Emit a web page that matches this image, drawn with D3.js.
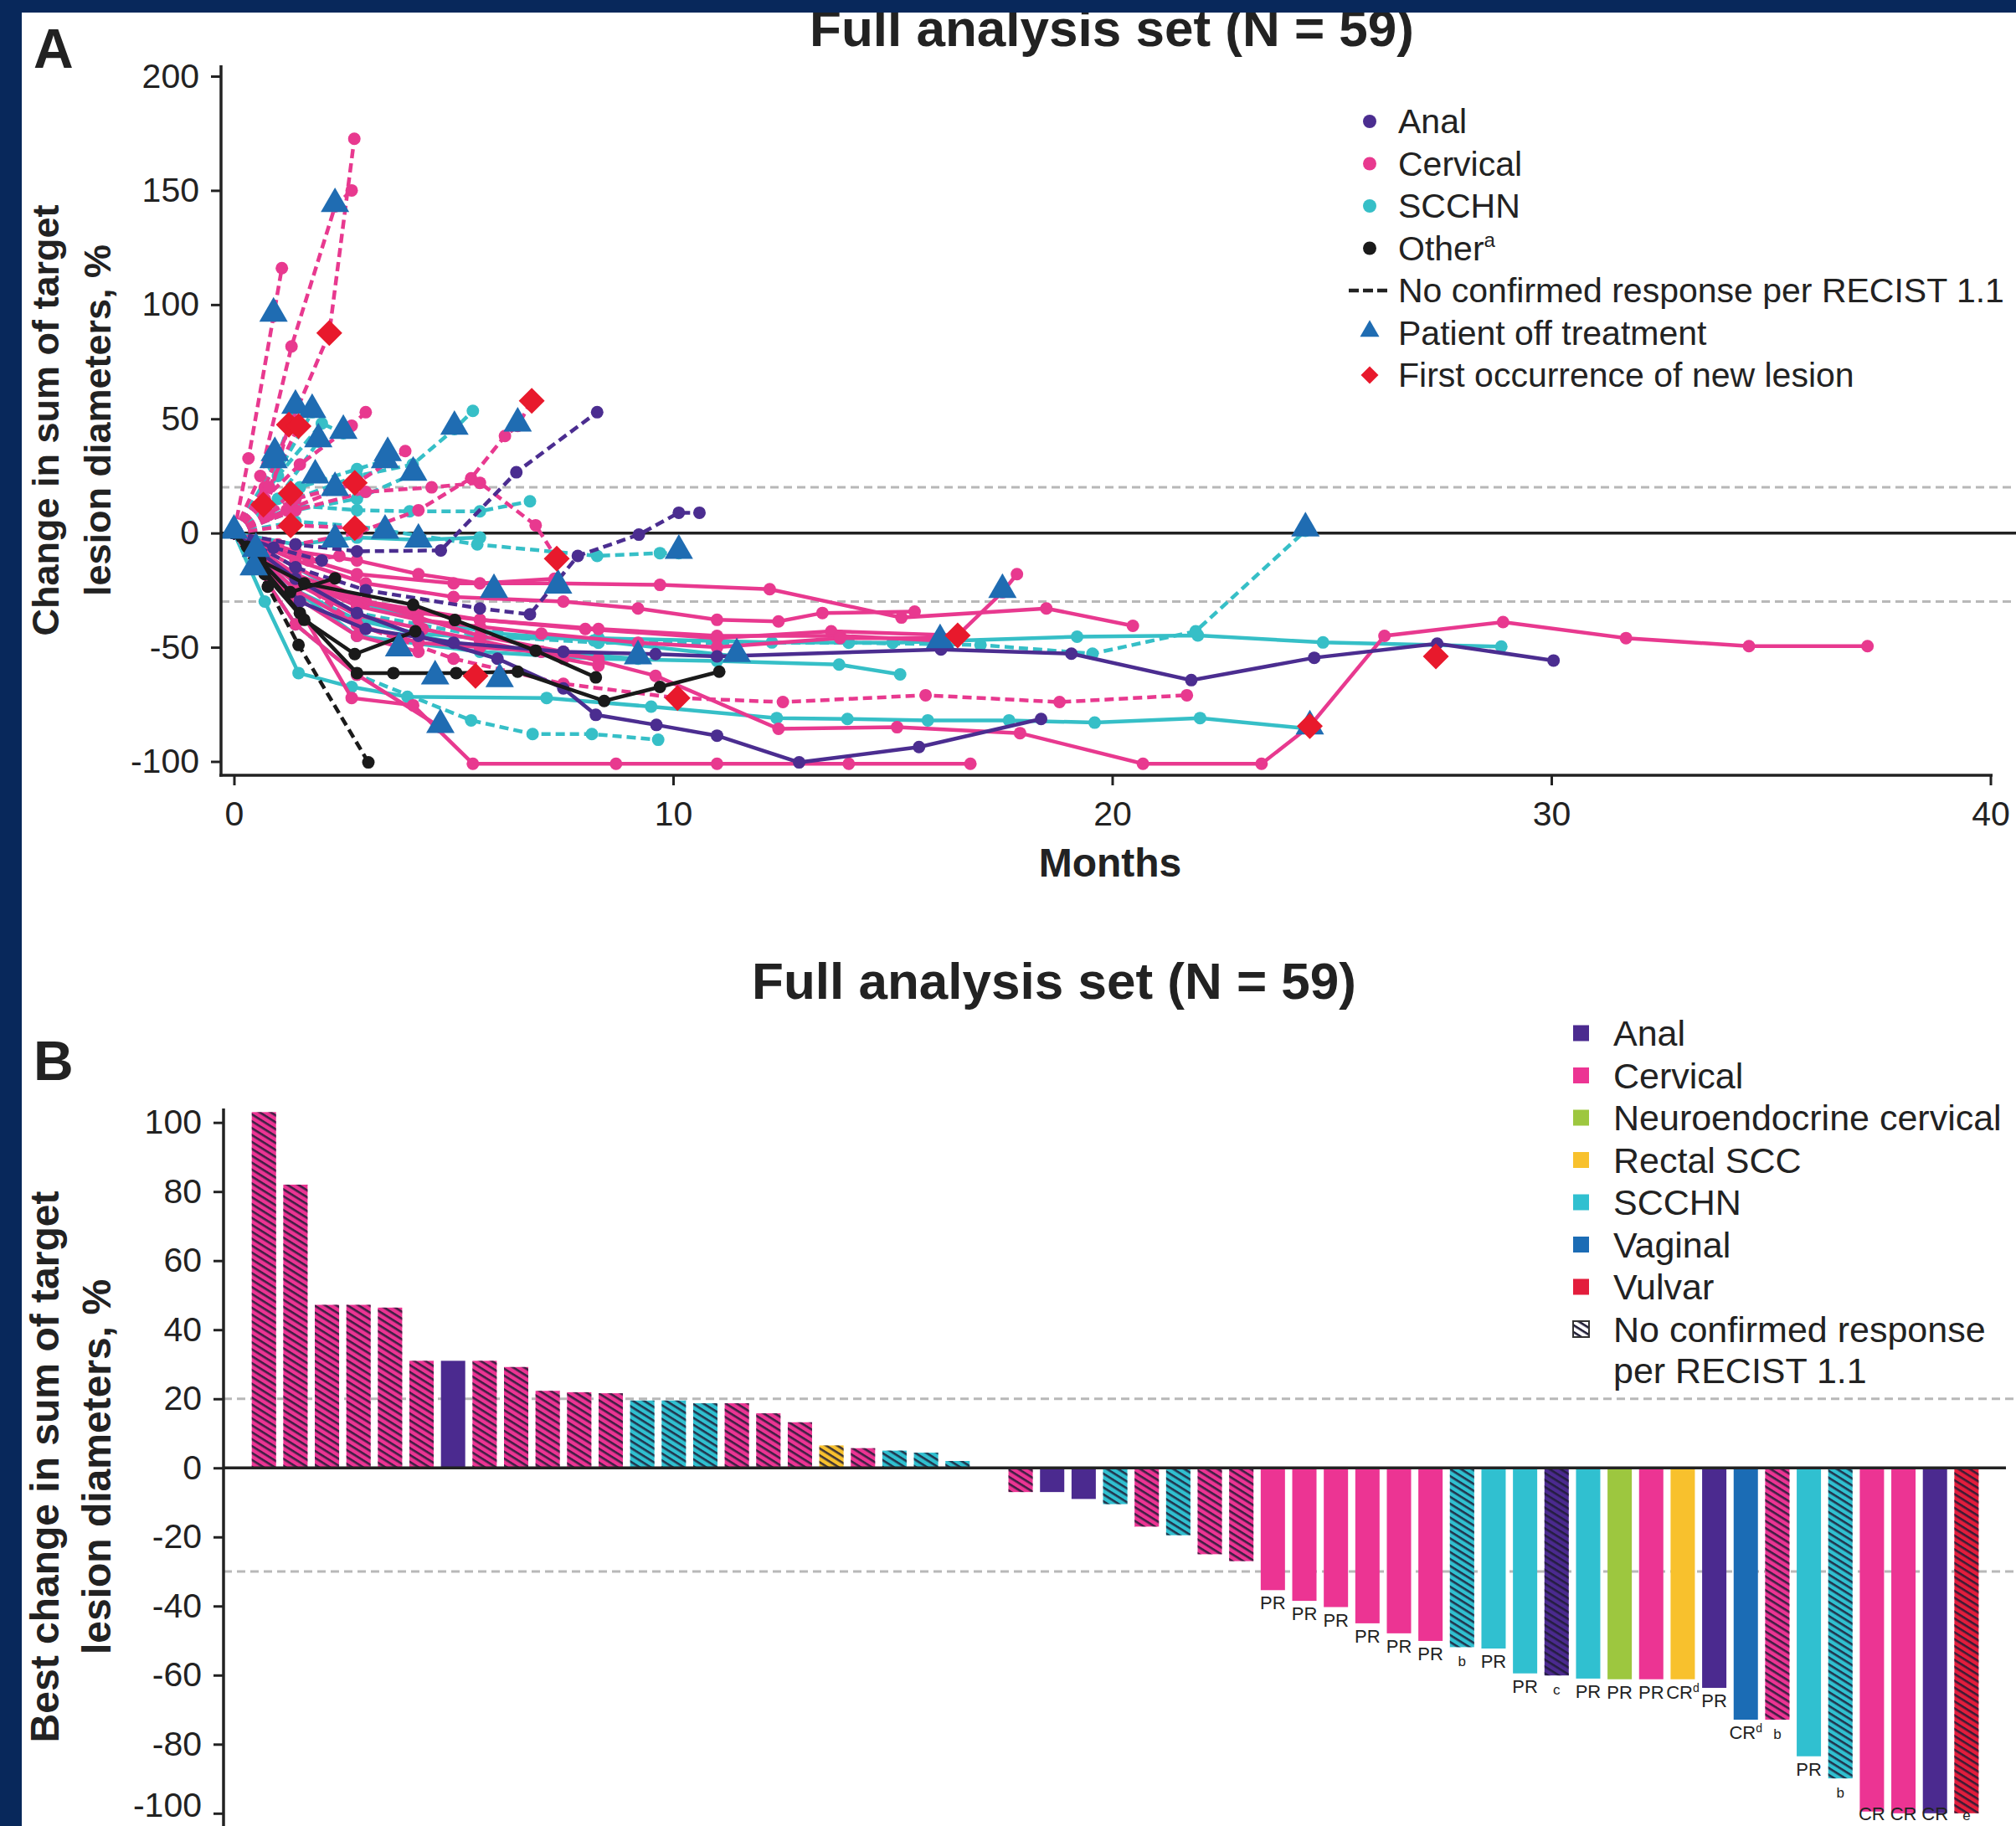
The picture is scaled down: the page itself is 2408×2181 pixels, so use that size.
<!DOCTYPE html>
<html>
<head>
<meta charset="utf-8">
<script src="https://cdn.jsdelivr.net/npm/d3@7"></script>
<style>
  body { margin: 0; background: #fff; }
  text { font-family: "Liberation Sans", Arial, sans-serif; fill: #222; }
</style>
</head>
<body>
<svg id="chart" width="2408" height="2181"></svg>
<script>
// ---------- Panel A data: [dashed, [[month, % change], ...]] ----------
const cervicalLines = [
  [0, [[0,0],[1.4,-15],[3,-30],[5.6,-45],[7.5,-52],[9.6,-62.5],[12.4,-85.7],[15.1,-85],[17.9,-87.6],[20.7,-101],[23.4,-101],[24.5,-84.5],[26.2,-45],[28.9,-39],[31.7,-46],[34.5,-49.5],[37.2,-49.5]]],
  [0, [[0,0],[1.4,-10],[2.8,-18],[5,-22],[7.3,-22],[9.7,-22.7],[12.2,-24.6],[15.2,-37],[18.5,-33],[20.47,-40.6]]],
  [0, [[0,0],[1.4,-18],[3,-30],[5.6,-38],[8,-42],[11,-46],[13.6,-43],[16.48,-44.8],[17.5,-25.9],[17.83,-18]]],
  [0, [[0,0],[1.4,-30],[2.68,-72.2],[4.08,-75.4],[5.44,-101],[8.7,-101],[11,-101],[14,-101],[16.77,-101]]],
  [0, [[0,0],[1.4,-40],[2.8,-62],[4.7,-85]]],
  [0, [[0,0],[1.4,-12],[3,-22],[5,-28],[7.5,-30],[9.2,-33],[11,-38],[12.4,-38.7],[13.4,-35],[15.5,-34.4]]],
  [0, [[0,0],[0.5,-10],[1.4,-20],[2.8,-30],[4.2,-35],[5.6,-38],[8.3,-42],[11,-45],[13.8,-45],[16,-47]]],
  [0, [[0,0],[1.4,-25],[2.8,-40],[4.2,-48],[5.6,-50],[7,-52],[8.3,-55]]],
  [0, [[0,0],[0.5,-12],[1.4,-28],[2.8,-45],[4.2,-52]]],
  [0, [[0,0],[1.4,-8],[2.8,-12],[4.2,-18],[5.6,-22],[7.3,-20]]],
  [0, [[0,0],[1.4,-20],[2.8,-32],[4.2,-38],[5.6,-41],[7,-44],[9.2,-48],[11,-50],[13.8,-46],[16.5,-46]]],
  [0, [[0,0],[1.4,-22],[2.8,-36],[4.3,-42],[5.6,-47],[7.5,-55],[8.3,-58]]],
  [1, [[0,0],[0.7,20],[1.3,48],[2.17,87.6],[2.74,172.6]]],
  [1, [[0,0],[0.6,25],[1.31,81.7],[2.3,143],[2.68,150]]],
  [1, [[0,0],[0.33,32.7],[0.9,95],[1.09,116]]],
  [1, [[0,0],[0.7,15],[1.5,30],[2.68,47],[3.0,52.9]]],
  [1, [[0,0],[1.4,-5],[2.8,0],[4.2,10],[5.4,24],[6.17,42.5],[6.46,46.9],[6.78,57.9]]],
  [1, [[0,0],[1.4,10],[3,18],[4.5,20],[5.6,22],[6.87,3.4],[7.35,-11.2]]],
  [1, [[0,0],[1.4,15],[2.8,22],[3.9,35.9]]],
  [1, [[0,0],[1.4,-20],[2.8,-40],[5,-55],[7.5,-66],[10.1,-72.2],[12.5,-74],[15.75,-71],[18.8,-74],[21.7,-71]]],
  [1, [[0,0],[0.67,12.4]]],
  [1, [[0,0],[0.8,8],[1.29,17.4]]],
  [1, [[0,0],[0.7,8],[1.25,47.4]]],
  [1, [[0,0],[0.8,20],[1.47,46.8]]],
  [1, [[0,0],[1.2,10],[2.75,22]]],
  [1, [[0,0],[1.29,3.4],[2.75,2.2]]],
  [1, [[0,0],[1.0,-5],[1.7,-12],[2.4,-10]]]
];
const scchnLines = [
  [0, [[0,0],[1.4,-25],[2.8,-38],[4.2,-44],[5.6,-46],[8.3,-46],[12.25,-47.9],[15,-48],[19.2,-45.4],[21.95,-44.8],[24.8,-47.9],[28.86,-49.7]]],
  [0, [[0,0],[0.7,-30],[1.47,-61.3],[2.68,-67.4],[3.95,-71.7],[7.12,-72.2],[9.5,-76],[12.36,-81],[13.97,-81.4],[15.8,-82],[17.65,-82],[19.6,-83],[22,-81],[24.5,-85.7]]],
  [0, [[0,0],[1.4,-25],[2.8,-45],[5.6,-52],[8.3,-55],[11,-56],[13.78,-57.6],[15.17,-61.9]]],
  [0, [[0,0],[1.4,-5],[2.8,-2],[4.2,-3],[5.6,-2]]],
  [0, [[0,0],[1.4,-20],[2.8,-36],[4.2,-45],[5.6,-50],[7,-52],[9.2,-55]]],
  [0, [[0,0],[1.4,-15],[2.8,-30],[4.2,-38],[6,-44],[8.2,-47],[11.45,-54]]],
  [1, [[0,0],[1.4,-20],[2.8,-35],[5.6,-45],[8.3,-48],[11,-48],[14,-48],[17,-49],[19.55,-52.8],[21.9,-43],[24.4,1]]],
  [1, [[0,0],[1.4,-40],[2.8,-62],[5.4,-82],[6.8,-88],[8.15,-88],[9.66,-90.5]]],
  [1, [[0,0],[1.4,5],[2.8,3],[5.54,-5],[8.27,-10],[9.7,-8.8],[10.13,-8.8]]],
  [1, [[0,0],[1.4,12],[2.8,10],[4.0,9.5],[5.6,9.5],[6.74,13.9]]],
  [1, [[0,0],[1.4,15],[2.8,25],[4.07,30],[5.02,45.5],[5.44,53.5]]],
  [1, [[0,0],[0.9,29],[1.4,54.7]]],
  [1, [[0,0],[0.8,20],[1.78,52.9]]],
  [1, [[0,0],[1.0,25],[2.0,48],[2.49,43.7]]],
  [1, [[0,0],[1.0,15],[1.92,40]]],
  [1, [[0,0],[1.5,20],[2.8,28],[3.5,32]]],
  [1, [[0,0],[1.4,10],[2.8,15],[4.1,26]]]
];
const analLines = [
  [0, [[0,0],[1.5,-30],[3,-42],[5,-48],[7.5,-52],[9.6,-53],[11,-54],[16.1,-51],[19.07,-52.8],[21.8,-64.4],[24.6,-54.6],[27.4,-48.4],[30.05,-55.8]]],
  [0, [[0,0],[1.4,-20],[2.8,-35],[4.2,-45],[6,-55],[7.5,-68],[8.24,-79.6],[9.62,-84],[11,-88.7],[12.87,-100.4],[15.6,-93.7],[18.38,-81.4]]],
  [1, [[0,0],[1.4,-5],[2.8,-8],[4.71,-7.6],[6.43,26.6],[8.27,52.9]]],
  [1, [[0,0],[1.4,-15],[3,-25],[5.6,-33],[6.74,-35.6],[7.83,-10],[9.22,-0.7],[10.13,8.9],[10.6,8.9]]],
  [1, [[0,0],[0.9,-6.4],[2,-12]]]
];
const otherLines = [
  [1, [[0,0],[0.77,-23.5],[1.47,-49],[3.06,-100.4]]],
  [0, [[0,0],[0.3,-6],[1.28,-25.9],[2.3,-19.8]]],
  [0, [[0,0],[0.6,-12],[1.6,-22],[4.08,-31.4],[5.03,-38.1],[6.87,-51.5],[8.24,-63.2]]],
  [0, [[0,0],[0.6,-14],[1.5,-35],[2.8,-61.3],[3.63,-61.3],[5.06,-61.3],[6.46,-60.7],[8.43,-73.5],[9.7,-67.4],[11.05,-60.7]]],
  [0, [[0,0],[0.7,-18],[1.6,-38],[2.75,-53],[4.13,-43]]]
];
const offTreatment = [[0,0],[0.45,-16],[0.5,-8],[0.9,95],[2.3,143],[1.4,54.7],[1.78,52.9],[2.49,43.7],[1.92,40],
  [0.9,30.9],[0.93,34],[1.85,24.2],[2.3,18.7],[3.44,30.9],[3.5,34],[4.08,25.4],[2.3,-3.9],[3.44,0],[4.2,-3.9],
  [5.02,45.5],[6.46,46.9],[10.13,-8.8],[24.4,1],[24.5,-85.7],[17.5,-25.9],[16.08,-47.9],[11.45,-54],[9.2,-55],
  [7.38,-24],[5.92,-25.9],[3.76,-51.5],[4.58,-63.8],[6.05,-65],[4.7,-85]];
const newLesion = [[2.17,87.6],[1.25,47.4],[1.47,46.8],[6.78,57.9],[0.67,12.4],[1.29,17.4],[1.29,3.4],[2.75,22],
  [2.75,2.2],[7.35,-11.2],[10.1,-72.2],[5.5,-62.5],[16.48,-44.8],[24.5,-84.5],[27.37,-54]];
const monthTicks = [0, 10, 20, 30, 40];
const changeTicksA = [-100, -50, 0, 50, 100, 150, 200];

// ---------- Panel B data ----------
const barTypes = ["cervical","cervical","cervical","cervical","cervical","cervical","anal","cervical","cervical","cervical",
  "cervical","cervical","scchn","scchn","scchn","cervical","cervical","cervical","rectal","cervical",
  "scchn","scchn","scchn","cervical","cervical","anal","anal","scchn","cervical","scchn",
  "cervical","cervical","cervical","cervical","cervical","cervical","cervical","cervical","scchn","scchn",
  "scchn","anal","scchn","neuro","cervical","rectal","anal","vaginal","cervical","scchn",
  "scchn","cervical","cervical","anal","vulvar"];
const barValues = [103,82,47.2,47.2,46.4,31,31,31,29.2,22.3,
  21.9,21.6,19.5,19.5,18.7,18.7,15.8,13.2,6.5,5.7,
  5,4.4,2,0,-7,-7,-9,-10.5,-17,-19.5,
  -25,-27,-35.4,-38.5,-40.3,-45,-47.9,-50.1,-51.9,-52.3,
  -59.5,-60.1,-61,-61.2,-61.2,-61.2,-63.7,-72.9,-72.9,-83.5,
  -89.9,-99.5,-100,-100,-100];
const barHatched = [1,1,1,1,1,1,0,1,1,1, 1,1,1,1,1,1,1,1,1,1, 1,1,1,1,1,0,0,1,1,1,
  1,1,0,0,0,0,0,0,1,0, 0,1,0,0,0,0,0,0,1,0, 1,0,0,0,1];
const barLabels = ["","","","","","","","","","", "","","","","","","","","","", "","","","","","","","","","",
  "","","PR","PR","PR","PR","PR","PR","b","PR", "PR","c","PR","PR","PR","CR|d","PR","CR|d","b","PR",
  "b","CR","CR","CR","e"];
const changeTicksB = [-100, -80, -60, -40, -20, 0, 20, 40, 60, 80, 100];

const colA = {anal: "#4b2d90", cervical: "#e8398f", scchn: "#36bfc7", other: "#1a1a1a"};
const colB = {anal: "#4b2a8f", cervical: "#ec3493", neuro: "#9dc73f", rectal: "#f8c12d",
  scchn: "#30c0d0", vaginal: "#1b6cb5", vulvar: "#e31d3c"};
const triColor = "#1f6cb2", diaColor = "#e8192c";
const plainFmt = d => String(d);   // hyphen minus, like the original

const svg = d3.select("#chart");
const defs = svg.append("defs");
const hatch = defs.append("pattern").attr("id", "hatch")
  .attr("patternUnits", "userSpaceOnUse").attr("width", 7).attr("height", 7)
  .attr("patternTransform", "rotate(32)");
hatch.append("rect").attr("x", 0).attr("y", 2).attr("width", 7).attr("height", 2.6).attr("fill", "#1e1b35");

// ================= Panel A =================
const xA = d3.scaleLinear().domain([0, 40]).range([279.5, 2377.5]);
const yA = d3.scaleLinear().domain([-100, 200]).range([909.5, 91]);
const gA = svg.append("g");

[20, -30].forEach(v => {
  gA.append("line").attr("x1", 264).attr("x2", 2408).attr("y1", yA(v)).attr("y2", yA(v))
    .attr("stroke", "#b8b8b8").attr("stroke-width", 3).attr("stroke-dasharray", "10,6");
});
gA.append("line").attr("x1", 264).attr("x2", 2408).attr("y1", yA(0)).attr("y2", yA(0))
  .attr("stroke", "#222").attr("stroke-width", 3.5);

const lineA = d3.line().x(d => xA(d[0])).y(d => yA(d[1]));
[["scchn", scchnLines], ["cervical", cervicalLines], ["anal", analLines], ["other", otherLines]].forEach(([type, lines]) => {
  lines.forEach(([dashed, pts]) => {
    gA.append("path").attr("d", lineA(pts)).attr("fill", "none")
      .attr("stroke", colA[type]).attr("stroke-width", 4.5)
      .attr("stroke-dasharray", dashed ? "11,6" : null);
    gA.selectAll(null).data(pts).enter().append("circle")
      .attr("cx", d => xA(d[0])).attr("cy", d => yA(d[1])).attr("r", 7.5)
      .attr("fill", colA[type]);
  });
});

const triSym = d3.symbol().type(d3.symbolTriangle).size(500);
gA.selectAll(".tri").data(offTreatment).enter().append("path")
  .attr("d", triSym).attr("fill", triColor)
  .attr("transform", d => `translate(${xA(d[0])},${yA(d[1]) - 3})`);
const diaSym = d3.symbol().type(d3.symbolSquare).size(480);
gA.selectAll(".dia").data(newLesion).enter().append("path")
  .attr("d", diaSym).attr("fill", diaColor)
  .attr("transform", d => `translate(${xA(d[0])},${yA(d[1])}) rotate(45)`);

// axes A
const axYA = gA.append("g").attr("transform", "translate(264,0)")
  .call(d3.axisLeft(yA).tickValues(changeTicksA).tickFormat(plainFmt).tickSize(12).tickPadding(14));
const axXA = gA.append("g").attr("transform", "translate(0,926)")
  .call(d3.axisBottom(xA).tickValues(monthTicks).tickFormat(plainFmt).tickSize(12).tickPadding(19));
[axYA, axXA].forEach(ax => {
  ax.select(".domain").remove();
  ax.selectAll("line").attr("stroke", "#222").attr("stroke-width", 3);
  ax.selectAll("text").attr("font-size", 41).attr("fill", "#222");
});
gA.append("line").attr("x1", 264).attr("x2", 264).attr("y1", 78).attr("y2", 927.5)
  .attr("stroke", "#222").attr("stroke-width", 3.5);
gA.append("line").attr("x1", 262).attr("x2", 2380).attr("y1", 926).attr("y2", 926)
  .attr("stroke", "#222").attr("stroke-width", 3.5);

gA.append("text").attr("x", 1326).attr("y", 1047).attr("text-anchor", "middle")
  .attr("font-size", 48).attr("font-weight", "bold").text("Months");
const ytA = gA.append("text").attr("transform", "translate(70,502) rotate(-90)")
  .attr("text-anchor", "middle").attr("font-size", 45).attr("font-weight", "bold");
ytA.append("tspan").attr("x", 0).attr("y", 0).text("Change in sum of target");
ytA.append("tspan").attr("x", 0).attr("y", 62).text("lesion diameters, %");
gA.append("text").attr("x", 1328).attr("y", 55).attr("text-anchor", "middle")
  .attr("font-size", 62).attr("font-weight", "bold").text("Full analysis set (N = 59)");
gA.append("text").attr("x", 40).attr("y", 81).attr("font-size", 66).attr("font-weight", "bold").text("A");

// legend A
const legA = gA.append("g");
const legAItems = ["Anal", "Cervical", "SCCHN", "Other", "No confirmed response per RECIST 1.1",
  "Patient off treatment", "First occurrence of new lesion"];
legAItems.forEach((label, i) => {
  const cy = 145 + i * 50.5;
  if (i < 4) {
    legA.append("circle").attr("cx", 1636).attr("cy", cy).attr("r", 8)
      .attr("fill", [colA.anal, colA.cervical, colA.scchn, colA.other][i]);
  } else if (i === 4) {
    legA.append("line").attr("x1", 1611).attr("x2", 1661).attr("y1", cy).attr("y2", cy)
      .attr("stroke", "#222").attr("stroke-width", 4.5).attr("stroke-dasharray", "12,5");
  } else if (i === 5) {
    legA.append("path").attr("d", d3.symbol().type(d3.symbolTriangle).size(230))
      .attr("fill", triColor).attr("transform", `translate(1636,${cy - 2})`);
  } else {
    legA.append("path").attr("d", d3.symbol().type(d3.symbolSquare).size(220))
      .attr("fill", diaColor).attr("transform", `translate(1636,${cy}) rotate(45)`);
  }
  const t = legA.append("text").attr("x", 1670).attr("y", cy + 14).attr("font-size", 41).text(label);
  if (i === 3) t.append("tspan").attr("font-size", 24).attr("dy", -16).text("a");
});

// ================= Panel B =================
const xB = d3.scaleBand().domain(d3.range(barValues.length)).range([296.4, 2367.7])
  .paddingInner(0.23).paddingOuter(0.115);
const yB = d3.scaleLinear().domain([-100, 100]).range([2165.8, 1340.7]);
const gB = svg.append("g");

[20, -30].forEach(v => {
  gB.append("line").attr("x1", 267).attr("x2", 2408).attr("y1", yB(v)).attr("y2", yB(v))
    .attr("stroke", "#b8b8b8").attr("stroke-width", 3).attr("stroke-dasharray", "10,6");
});

const bars = barValues.map((v, i) => ({i, v, type: barTypes[i], hatched: barHatched[i], label: barLabels[i]}))
  .filter(d => d.v !== 0);
gB.selectAll(".bar").data(bars).enter().append("rect")
  .attr("x", d => xB(d.i)).attr("width", xB.bandwidth())
  .attr("y", d => yB(Math.max(0, d.v))).attr("height", d => Math.abs(yB(d.v) - yB(0)))
  .attr("fill", d => colB[d.type]);
gB.selectAll(".hatch").data(bars.filter(d => d.hatched)).enter().append("rect")
  .attr("x", d => xB(d.i)).attr("width", xB.bandwidth())
  .attr("y", d => yB(Math.max(0, d.v))).attr("height", d => Math.abs(yB(d.v) - yB(0)))
  .attr("fill", "url(#hatch)").attr("opacity", 0.85);

// labels at the very bottom are lifted a little so they stay on the page
gB.selectAll(".lab").data(bars.filter(d => d.label)).enter().append("text")
  .attr("x", d => xB(d.i) + xB.bandwidth() / 2)
  .attr("y", d => Math.min(yB(d.v) + 23, 2174))
  .attr("text-anchor", "middle").attr("font-size", d => d.label.length === 1 ? 17 : 22).attr("fill", "#333")
  .each(function (d) {
    const parts = d.label.split("|");
    const t = d3.select(this);
    t.append("tspan").text(parts[0]);
    if (parts[1]) t.append("tspan").attr("font-size", 14).attr("dy", -8).text(parts[1]);
  });

gB.append("line").attr("x1", 267).attr("x2", 2396).attr("y1", yB(0)).attr("y2", yB(0))
  .attr("stroke", "#222").attr("stroke-width", 3.5);
const axYB = gB.append("g").attr("transform", "translate(267,0)")
  .call(d3.axisLeft(yB).tickValues(changeTicksB).tickFormat(plainFmt).tickSize(12).tickPadding(14));
axYB.select(".domain").remove();
axYB.selectAll("line").attr("stroke", "#222").attr("stroke-width", 3);
axYB.selectAll("text").attr("font-size", 41).attr("fill", "#222");
// bottom tick label sits on the page edge; nudge it up so it is not clipped
axYB.selectAll("text").filter(d => d === -100).attr("dy", "0.1em");
gB.append("line").attr("x1", 267).attr("x2", 267).attr("y1", 1324).attr("y2", 2181)
  .attr("stroke", "#222").attr("stroke-width", 3.5);

const ytB = gB.append("text").attr("transform", "translate(70,1752) rotate(-90)")
  .attr("text-anchor", "middle").attr("font-size", 48).attr("font-weight", "bold");
ytB.append("tspan").attr("x", 0).attr("y", 0).text("Best change in sum of target");
ytB.append("tspan").attr("x", 0).attr("y", 62).text("lesion diameters, %");
gB.append("text").attr("x", 1259).attr("y", 1193).attr("text-anchor", "middle")
  .attr("font-size", 62).attr("font-weight", "bold").text("Full analysis set (N = 59)");
gB.append("text").attr("x", 40).attr("y", 1290).attr("font-size", 66).attr("font-weight", "bold").text("B");

// legend B
const legB = gB.append("g");
const legBKeys = ["anal", "cervical", "neuro", "rectal", "scchn", "vaginal", "vulvar"];
const legBLabels = ["Anal", "Cervical", "Neuroendocrine cervical", "Rectal SCC", "SCCHN", "Vaginal", "Vulvar"];
legBKeys.forEach((k, i) => {
  const cy = 1234 + i * 50.5;
  legB.append("rect").attr("x", 1879).attr("y", cy - 9.5).attr("width", 19).attr("height", 19).attr("fill", colB[k]);
  legB.append("text").attr("x", 1927).attr("y", cy + 15).attr("font-size", 43).text(legBLabels[i]);
});
const cyH = 1234 + 7 * 50.5;
legB.append("rect").attr("x", 1879).attr("y", cyH - 9.5).attr("width", 19).attr("height", 19).attr("fill", "#fff");
legB.append("rect").attr("x", 1879).attr("y", cyH - 9.5).attr("width", 19).attr("height", 19)
  .attr("fill", "url(#hatch)").attr("stroke", "#333").attr("stroke-width", 2);
legB.append("text").attr("x", 1927).attr("y", cyH + 15).attr("font-size", 43).text("No confirmed response");
legB.append("text").attr("x", 1927).attr("y", cyH + 64).attr("font-size", 43).text("per RECIST 1.1");

// navy frame
svg.append("rect").attr("x", 0).attr("y", 0).attr("width", 2408).attr("height", 15).attr("fill", "#08285b");
svg.append("rect").attr("x", 0).attr("y", 0).attr("width", 26).attr("height", 2181).attr("fill", "#08285b");
</script>
</body>
</html>
